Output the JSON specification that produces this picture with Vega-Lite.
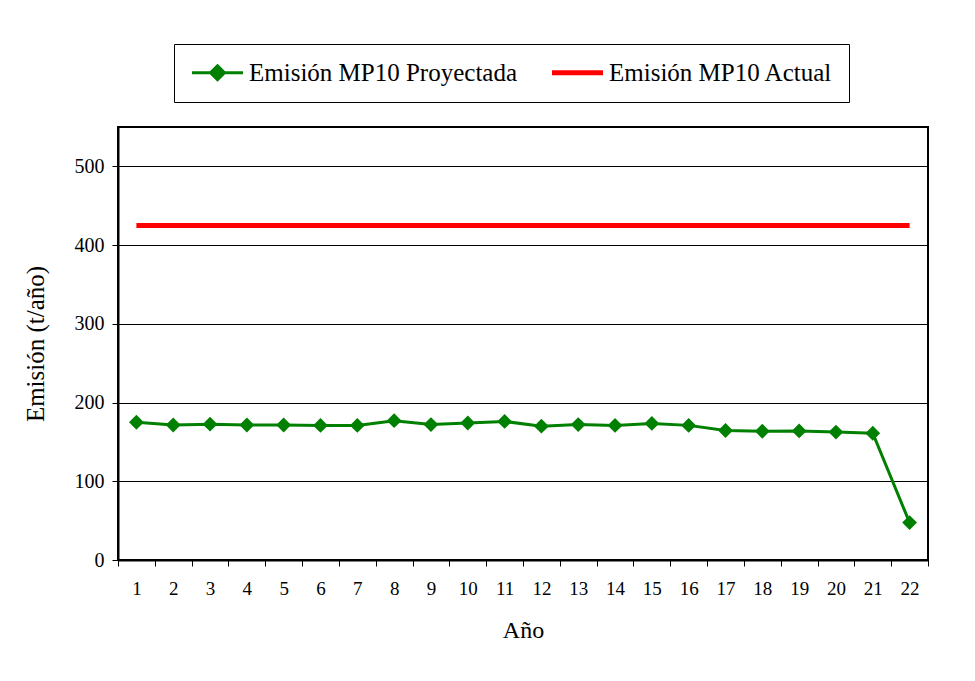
{
  "$schema": "https://vega.github.io/schema/vega-lite/v6.json",
  "width": 810,
  "height": 433,
  "autosize": "none",
  "padding": {"left": 118, "top": 127, "right": 47, "bottom": 121},
  "background": "white",
  "config": {
    "view": {"stroke": "black", "strokeWidth": 2},
    "font": "Times New Roman"
  },
  "data": {
    "values": [
      {"anio": 1, "serie": "Emisión MP10 Proyectada", "valor": 175},
      {"anio": 2, "serie": "Emisión MP10 Proyectada", "valor": 171.5},
      {"anio": 3, "serie": "Emisión MP10 Proyectada", "valor": 172.5},
      {"anio": 4, "serie": "Emisión MP10 Proyectada", "valor": 171.5},
      {"anio": 5, "serie": "Emisión MP10 Proyectada", "valor": 171.5},
      {"anio": 6, "serie": "Emisión MP10 Proyectada", "valor": 171},
      {"anio": 7, "serie": "Emisión MP10 Proyectada", "valor": 171},
      {"anio": 8, "serie": "Emisión MP10 Proyectada", "valor": 177},
      {"anio": 9, "serie": "Emisión MP10 Proyectada", "valor": 172},
      {"anio": 10, "serie": "Emisión MP10 Proyectada", "valor": 174},
      {"anio": 11, "serie": "Emisión MP10 Proyectada", "valor": 176},
      {"anio": 12, "serie": "Emisión MP10 Proyectada", "valor": 170},
      {"anio": 13, "serie": "Emisión MP10 Proyectada", "valor": 172},
      {"anio": 14, "serie": "Emisión MP10 Proyectada", "valor": 171},
      {"anio": 15, "serie": "Emisión MP10 Proyectada", "valor": 173.5},
      {"anio": 16, "serie": "Emisión MP10 Proyectada", "valor": 171},
      {"anio": 17, "serie": "Emisión MP10 Proyectada", "valor": 164.5},
      {"anio": 18, "serie": "Emisión MP10 Proyectada", "valor": 163.5},
      {"anio": 19, "serie": "Emisión MP10 Proyectada", "valor": 164},
      {"anio": 20, "serie": "Emisión MP10 Proyectada", "valor": 162.5},
      {"anio": 21, "serie": "Emisión MP10 Proyectada", "valor": 161},
      {"anio": 22, "serie": "Emisión MP10 Proyectada", "valor": 47.5},
      {"anio": 1, "serie": "Emisión MP10 Actual", "valor": 425},
      {"anio": 2, "serie": "Emisión MP10 Actual", "valor": 425},
      {"anio": 3, "serie": "Emisión MP10 Actual", "valor": 425},
      {"anio": 4, "serie": "Emisión MP10 Actual", "valor": 425},
      {"anio": 5, "serie": "Emisión MP10 Actual", "valor": 425},
      {"anio": 6, "serie": "Emisión MP10 Actual", "valor": 425},
      {"anio": 7, "serie": "Emisión MP10 Actual", "valor": 425},
      {"anio": 8, "serie": "Emisión MP10 Actual", "valor": 425},
      {"anio": 9, "serie": "Emisión MP10 Actual", "valor": 425},
      {"anio": 10, "serie": "Emisión MP10 Actual", "valor": 425},
      {"anio": 11, "serie": "Emisión MP10 Actual", "valor": 425},
      {"anio": 12, "serie": "Emisión MP10 Actual", "valor": 425},
      {"anio": 13, "serie": "Emisión MP10 Actual", "valor": 425},
      {"anio": 14, "serie": "Emisión MP10 Actual", "valor": 425},
      {"anio": 15, "serie": "Emisión MP10 Actual", "valor": 425},
      {"anio": 16, "serie": "Emisión MP10 Actual", "valor": 425},
      {"anio": 17, "serie": "Emisión MP10 Actual", "valor": 425},
      {"anio": 18, "serie": "Emisión MP10 Actual", "valor": 425},
      {"anio": 19, "serie": "Emisión MP10 Actual", "valor": 425},
      {"anio": 20, "serie": "Emisión MP10 Actual", "valor": 425},
      {"anio": 21, "serie": "Emisión MP10 Actual", "valor": 425},
      {"anio": 22, "serie": "Emisión MP10 Actual", "valor": 425}
    ]
  },
  "encoding": {
    "x": {
      "field": "anio",
      "type": "ordinal",
      "title": "Año",
      "scale": {"type": "band", "paddingInner": 0, "paddingOuter": 0},
      "axis": {
        "labelAngle": 0,
        "tickBand": "extent",
        "tickSize": 6,
        "tickColor": "black",
        "domainColor": "black",
        "domainWidth": 2,
        "labelFontSize": 19,
        "labelColor": "black",
        "labelPadding": 13,
        "titleFontSize": 24,
        "titleFontWeight": "normal",
        "titleColor": "black",
        "titlePadding": 20
      }
    },
    "y": {
      "field": "valor",
      "type": "quantitative",
      "title": "Emisión (t/año)",
      "scale": {"domain": [0, 550], "nice": false},
      "axis": {
        "values": [0, 100, 200, 300, 400, 500],
        "grid": true,
        "gridColor": "black",
        "gridWidth": 1,
        "gridOpacity": 1,
        "tickSize": 6,
        "tickColor": "black",
        "domainColor": "black",
        "domainWidth": 2,
        "labelFontSize": 20,
        "labelColor": "black",
        "labelPadding": 8,
        "titleFontSize": 25,
        "titleFontWeight": "normal",
        "titleColor": "black",
        "titlePadding": 26
      }
    },
    "color": {
      "field": "serie",
      "type": "nominal",
      "scale": {
        "domain": ["Emisión MP10 Proyectada", "Emisión MP10 Actual"],
        "range": ["#008000", "#FF0000"]
      },
      "legend": {
        "title": null,
        "orient": "none",
        "legendX": 56,
        "legendY": -83,
        "direction": "horizontal",
        "strokeColor": "black",
        "fillColor": "white",
        "padding": 16,
        "labelFontSize": 25,
        "labelLimit": 500,
        "labelColor": "black",
        "symbolSize": 400,
        "symbolOffset": 15,
        "labelOffset": 19,
        "columnPadding": 24,
        "encode": {
          "symbols": {
            "update": {
              "shape": {"signal": "datum.value === 'Emisión MP10 Actual' ? 'M-2.55,0H2.55' : 'M-2.55,0H2.55M0,-0.7L0.7,0L0,0.7L-0.7,0Z'"},
              "strokeWidth": {"signal": "datum.value === 'Emisión MP10 Actual' ? 5 : 3"},
              "fill": {"signal": "datum.value === 'Emisión MP10 Actual' ? 'transparent' : '#008000'"},
              "stroke": {"signal": "datum.value === 'Emisión MP10 Actual' ? '#FF0000' : '#008000'"},
              "opacity": {"value": 1}
            }
          }
        }
      }
    }
  },
  "layer": [
    {
      "transform": [{"filter": "datum.serie === 'Emisión MP10 Actual'"}],
      "mark": {"type": "line", "strokeWidth": 5}
    },
    {
      "transform": [{"filter": "datum.serie === 'Emisión MP10 Proyectada'"}],
      "mark": {"type": "line", "strokeWidth": 3, "point": {"shape": "diamond", "size": 220, "filled": true, "opacity": 1}}
    }
  ]
}
